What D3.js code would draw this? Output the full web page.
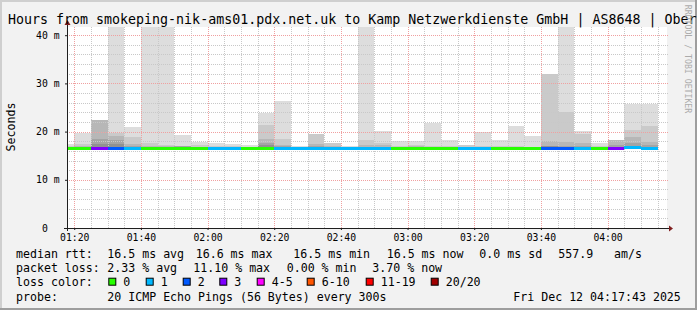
<!DOCTYPE html>
<html lang="en">
<head>
<meta charset="UTF-8">
<title>SmokePing - last 3 hours</title>
<style>
  body { margin: 0; background: #f2f2f2; }
  svg { display: block; font-family: "DejaVu Sans Mono", monospace; }
  text { white-space: pre; }
</style>
</head>
<body>
<script src="https://d3js.org/d3.v7.min.js"></script>
<script>
// one bar per 5 minute step (start time)
var times = ["01:15","01:20","01:25","01:30","01:35","01:40","01:45","01:50","01:55",
  "02:00","02:05","02:10","02:15","02:20","02:25","02:30","02:35","02:40","02:45","02:50","02:55",
  "03:00","03:05","03:10","03:15","03:20","03:25","03:30","03:35","03:40","03:45","03:50","03:55",
  "04:00","04:05","04:10"];

// lost pings out of 20 per step
var lost = [0,0,3,2,1,0,0,0,0, 1,1,0,0,1,1,1,1,1,1,1,0, 0,0,0,1,1,0,0,0,2,2,1,0, 3,1,1];

// median rtt (ms)
var median = [16.5,16.5,16.5,16.5,16.5,16.5,16.5,16.5,16.5, 16.5,16.5,16.5,16.5,16.5,16.5,16.5,16.5,16.5,16.5,16.5,16.5,
  16.5,16.5,16.5,16.5,16.5,16.5,16.5,16.5,16.5,16.5,16.5,16.5, 16.5,16.6,16.5];

// smoke: lowest ping and the upper edge of each smoke band (outer -> inner), ms
var smokeMin = [16.4,16.4,16.4,16.4,16.4,16.4,16.4,16.4,16.4, 16.4,16.4,16.4,16.4,16.4,16.4,16.4,16.4,16.4,16.4,16.4,16.4,
  16.4,16.4,16.4,16.4,16.4,16.4,16.4,16.4,16.4,16.4,16.4,16.4, 16.4,16.4,16.4];
var smoke1 = [17.5,19.8,22.4,44,21.0,44,44,19.3,17.9, 17.7,17.4,17.2,23.9,26.4,17.0,19.4,17.7,17.0,44,20.1,18.0,
  18.0,21.8,18.2,17.2,19.9,18.2,21.1,19.1,31.9,44,20.1,17.7, 18.2,25.8,25.8];
var smoke2 = [17.0,17.5,22.4,19.7,18.9,17.6,17.2,17.0,17.2, 17.1,17.0,16.9,21.3,18.5,16.9,19.4,17.7,16.9,18.2,17.7,17.0,
  17.2,17.1,17.0,17.2,17.0,17.0,17.0,16.9,31.9,24.1,19.5,17.1, 18.2,20.3,21.1];
var smoke3 = [16.8,17.0,22.4,19.1,17.5,17.1,17.0,17.0,16.9, 16.9,16.9,16.8,18.4,17.2,16.8,17.5,17.0,16.8,17.2,17.2,16.9,
  17.0,16.9,16.9,16.9,16.9,16.9,16.9,16.8,18.0,17.9,17.7,16.9, 18.2,18.8,17.9];
var smoke4 = [16.7,16.8,18.4,18.2,17.1,16.9,16.9,17.0,16.8, 16.8,16.8,16.7,17.7,17.0,16.7,17.0,16.8,16.7,16.9,16.9,16.8,
  16.8,16.8,16.8,16.8,16.8,16.8,16.8,16.7,17.0,17.1,17.1,16.8, 17.2,17.6,17.2];
var smoke5 = [16.6,16.7,17.5,17.4,16.9,16.8,16.8,16.8,16.7, 16.7,16.7,16.6,17.2,16.8,16.6,16.8,16.7,16.6,16.7,16.7,16.7,
  16.7,16.7,16.7,16.7,16.7,16.7,16.7,16.6,17.0,16.9,16.9,16.7, 16.9,17.1,16.9];

// y axis
var yTicks = [0, 10, 20, 30, 40];
var yTickLabels = ["0  ", "10 m", "20 m", "30 m", "40 m"];

// legend
var lossLabels = ["0", "1", "2", "3", "4-5", "6-10", "11-19", "20/20"];
var lossMax    = [0, 1, 2, 3, 5, 10, 19, 20];
var lossColors = ["#26ff00", "#00b8ff", "#0059ff", "#7e00ff", "#ff00ff", "#ff5500", "#ff0000", "#a00000"];
var statNames = ["avg", "max", "min", "now"];
var rttStats = [16.5, 16.6, 16.5, 16.5];
var rttSd = 0.0;
var amPerSec = 557.9;
var lossStats = [2.33, 11.10, 0.00, 3.70];

var title = "Hours from smokeping-nik-ams01.pdx.net.uk to Kamp Netzwerkdienste GmbH | AS8648 | Ober";
var probeText = "20 ICMP Echo Pings (56 Bytes) every 300s";
var stampText = "Fri Dec 12 04:17:43 2025";

var width = 697, height = 310;
var plot = { left: 67, right: 667, top: 27, bottom: 228 };
var smokeColors = ["#dddddd", "#cacaca", "#b7b7b7", "#a4a4a4", "#919191"];
var smoke = [smoke1, smoke2, smoke3, smoke4, smoke5];

var parseT = d3.timeParse("%H:%M:%S");
var t0 = parseT("01:17:50"), t1 = parseT("04:17:50");
var starts = times.map(function(s) { return parseT(s + ":00"); });

var x = d3.scaleTime().domain([t0, t1]).range([plot.left, plot.right]);
var y = d3.scaleLinear().domain([0, 41.7]).range([plot.bottom, plot.top]);

var svg = d3.select("body").append("svg").attr("width", width).attr("height", height);

// frame and shade
svg.append("rect").attr("width", width).attr("height", height).attr("fill", "#f2f2f2");
svg.append("rect").attr("x", 0).attr("y", 0).attr("width", width).attr("height", 2).attr("fill", "#cfcfcf");
svg.append("rect").attr("x", 0).attr("y", 0).attr("width", 2).attr("height", height).attr("fill", "#cfcfcf");
svg.append("rect").attr("x", 0).attr("y", height - 2).attr("width", width).attr("height", 2).attr("fill", "#9e9e9e");
svg.append("rect").attr("x", width - 2).attr("y", 0).attr("width", 2).attr("height", height).attr("fill", "#9e9e9e");

svg.append("rect")
  .attr("x", plot.left).attr("y", plot.top)
  .attr("width", plot.right - plot.left).attr("height", plot.bottom - plot.top)
  .attr("fill", "#ffffff");

svg.append("clipPath").attr("id", "clip").append("rect")
  .attr("x", plot.left).attr("y", plot.top)
  .attr("width", plot.right - plot.left).attr("height", plot.bottom - plot.top);

var g = svg.append("g").attr("clip-path", "url(#clip)").attr("shape-rendering", "crispEdges");
var step = 5 * 60 * 1000;

// smoke bands, outer first
smoke.forEach(function(band, k) {
  g.selectAll(null).data(band).enter().append("rect")
    .attr("x", function(d, i) { return x(starts[i]); })
    .attr("width", function(d, i) { return x(new Date(+starts[i] + step)) - x(starts[i]); })
    .attr("y", function(d) { return y(d); })
    .attr("height", function(d, i) { return Math.max(0, y(smokeMin[i]) - y(d)); })
    .attr("fill", smokeColors[k]);
});

function lossColor(n) {
  for (var j = 0; j < lossMax.length; j++) if (n <= lossMax[j]) return lossColors[j];
  return lossColors[lossColors.length - 1];
}

// grid (drawn over the smoke, like rrdtool)
var grid = svg.append("g").attr("shape-rendering", "crispEdges").attr("stroke-dasharray", "1,1");
var minorT = d3.timeMinute.every(5).range(t0, t1);
minorT.forEach(function(t) {
  var major = t.getMinutes() % 20 === 0;
  grid.append("line")
    .attr("x1", Math.round(x(t)) + 0.5).attr("x2", Math.round(x(t)) + 0.5)
    .attr("y1", plot.top).attr("y2", plot.bottom)
    .attr("stroke", major ? "#f0a0a0" : "#c8c8c8");
});
d3.range(2, 42, 2).forEach(function(v) {
  var major = v % 10 === 0;
  grid.append("line")
    .attr("x1", plot.left).attr("x2", plot.right + 1)
    .attr("y1", Math.round(y(v)) + 0.5).attr("y2", Math.round(y(v)) + 0.5)
    .attr("stroke", major ? "#f0a0a0" : "#c8c8c8");
});

// median line coloured by loss
svg.append("g").attr("shape-rendering", "crispEdges").selectAll("rect").data(median).enter().append("rect")
  .attr("x", function(d, i) { return Math.max(plot.left, x(starts[i])); })
  .attr("width", function(d, i) { return x(new Date(+starts[i] + step)) - Math.max(plot.left, x(starts[i])); })
  .attr("y", function(d) { return y(d) - 1.5; })
  .attr("height", 3)
  .attr("fill", function(d, i) { return lossColor(lost[i]); });

// axes
var xAxis = d3.axisBottom(x)
  .ticks(d3.timeMinute.every(20))
  .tickFormat(d3.timeFormat("%H:%M"))
  .tickSize(2).tickSizeOuter(0).tickPadding(4);
var gx = svg.append("g").attr("transform", "translate(0," + plot.bottom + ")").call(xAxis);
gx.select(".domain").remove();
gx.selectAll("line").attr("stroke", "#1f1f1f");
gx.selectAll("text").attr("font-family", "DejaVu Sans Mono").attr("font-size", "9.75px").attr("fill", "#000");

var yAxis = d3.axisLeft(y)
  .tickValues(yTicks)
  .tickFormat(function(d, i) { return yTickLabels[i]; })
  .tickSize(2).tickSizeOuter(0).tickPadding(5.5);
var gy = svg.append("g").attr("transform", "translate(" + plot.left + ",0)").call(yAxis);
gy.select(".domain").remove();
gy.selectAll("line").attr("stroke", "#1f1f1f");
gy.selectAll("text").attr("font-family", "DejaVu Sans Mono").attr("font-size", "9.75px").attr("fill", "#000");

svg.append("line").attr("x1", plot.left - 3).attr("x2", plot.right + 3)
  .attr("y1", plot.bottom + 0.5).attr("y2", plot.bottom + 0.5)
  .attr("stroke", "#1f1f1f").attr("shape-rendering", "crispEdges");
svg.append("line").attr("x1", plot.left + 0.5).attr("x2", plot.left + 0.5)
  .attr("y1", plot.top - 5).attr("y2", plot.bottom + 3)
  .attr("stroke", "#1f1f1f").attr("shape-rendering", "crispEdges");
svg.append("path")
  .attr("d", "M" + (plot.left + 0.5) + "," + (plot.top - 7) + "l-3,5h6z")
  .attr("fill", "#801f1f");
svg.append("path")
  .attr("d", "M" + (plot.right + 6) + "," + (plot.bottom + 0.5) + "l-4,-3v6z")
  .attr("fill", "#801f1f");

// texts
svg.append("text").attr("x", 8).attr("y", 24)
  .attr("font-size", "13.3px").attr("fill", "#000").text(title);

svg.append("text")
  .attr("transform", "translate(15,127) rotate(-90)")
  .attr("text-anchor", "middle").attr("font-size", "11.6px").attr("fill", "#000")
  .text("Seconds");

svg.append("text")
  .attr("transform", "translate(684.5,59) rotate(90)")
  .attr("text-anchor", "middle").attr("font-size", "8.2px").attr("fill", "#ababab")
  .text("RRDTOOL / TOBI OETIKER");

// legend
var lg = svg.append("g").attr("font-size", "11.6px").attr("fill", "#000");
var rowY = [257.5, 272, 286.2, 300.5];
var colX = 107.3;

lg.append("text").attr("x", 16).attr("y", rowY[0]).text("median rtt:");
var rttX = [107.3, 195.7, 293.3, 386.7];
rttStats.forEach(function(v, i) {
  lg.append("text").attr("x", rttX[i]).attr("y", rowY[0]).text(d3.format(".1f")(v) + " ms " + statNames[i]);
});
lg.append("text").attr("x", 479.3).attr("y", rowY[0]).text(d3.format(".1f")(rttSd) + " ms sd");
lg.append("text").attr("x", 558.3).attr("y", rowY[0]).text(d3.format(".1f")(amPerSec));
lg.append("text").attr("x", 614).attr("y", rowY[0]).text("am/s");

lg.append("text").attr("x", 16).attr("y", rowY[1]).text("packet loss:");
var lossX = [107.3, 193.3, 286.7, 372.3];
lossStats.forEach(function(v, i) {
  lg.append("text").attr("x", lossX[i]).attr("y", rowY[1]).text(d3.format(".2f")(v) + " % " + statNames[i]);
});

lg.append("text").attr("x", 16).attr("y", rowY[2]).text("loss color:");
var swatchX = [108.3, 145.7, 182.7, 219.3, 256.7, 306.7, 365.7, 430.7];
lossLabels.forEach(function(l, i) {
  lg.append("rect").attr("x", swatchX[i] + 0.5).attr("y", 278.2)
    .attr("width", 7).attr("height", 7)
    .attr("fill", lossColors[i]).attr("stroke", "#000").attr("stroke-width", 1);
  lg.append("text").attr("x", swatchX[i] + 15).attr("y", rowY[2]).text(l);
});

lg.append("text").attr("x", 16).attr("y", rowY[3]).text("probe:");
lg.append("text").attr("x", colX).attr("y", rowY[3]).text(probeText);
lg.append("text").attr("x", 513.3).attr("y", rowY[3]).text(stampText);
</script>
</body>
</html>
